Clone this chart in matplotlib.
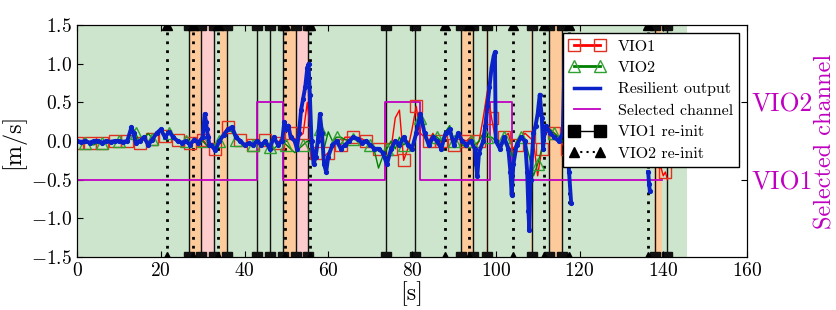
import matplotlib.pyplot as plt
from matplotlib.lines import Line2D

plt.rcParams['font.family'] = 'cmr10'
plt.rcParams['mathtext.fontset'] = 'cm'
plt.rcParams['axes.formatter.use_mathtext'] = True
plt.rcParams['xtick.direction'] = 'in'
plt.rcParams['ytick.direction'] = 'in'
plt.rcParams['xtick.top'] = True

# resilient output (blue)
t_res = [0, 1, 2, 3, 4, 5, 6, 7, 8, 9, 10, 11, 12, 13, 13.5, 14, 15, 16, 17, 18,
         19, 20, 21, 22, 23, 24, 25, 26, 27, 28, 29, 30, 30.5, 30.8, 31.0, 31.3,
         31.6, 32, 33, 34, 35, 36, 37, 38, 39, 40, 41, 42, 43, 44, 45, 46, 47, 48,
         49, 49.5, 50, 50.5, 51, 52, 52.5, 53, 53.5, 54, 54.5, 55, 55.3, 55.6, 56,
         56.5, 57, 57.5, 58, 58.5, 59, 59.5, 60, 61, 62, 63, 64, 65, 66, 67, 68,
         69, 70, 71, 72, 73, 74, 75, 76, 77, 78, 79, 80, 81, 82, 83, 84, 85, 86,
         87, 88, 89, 90, 91, 92, 93, 94, 95, 95.3, 95.6, 96, 97, 97.5, 98, 98.5,
         99, 99.5, 99.8, 100, 101, 102, 103, 103.5, 103.8, 104.2, 105, 106, 107,
         107.5, 107.8, 108, 108.3, 109, 109.5, 110, 110.5, 111, 111.3, 111.6, 112,
         113, 114, 115, 116, 116.5, 116.8, 117, 117.5, 118,
         118.2, 136.4, 136.6, 136.8]
v_res = [0.0, -0.01, 0.0, -0.02, 0.0, 0.0, -0.02, 0.0, -0.01, 0.0, 0.0, -0.01,
         0.0, 0.18, 0.1, -0.02, 0.0, 0.05, -0.05, 0.02, 0.1, 0.15, 0.05, 0.12,
         0.05, 0.0, -0.02, 0.0, -0.05, 0.02, -0.02, 0.05, 0.35, 0.25, 0.15, 0.05,
         -0.05, -0.05, -0.12, 0.0, 0.08, 0.15, 0.18, 0.05, 0.0, -0.05, -0.03,
         -0.05, 0.0, -0.05, 0.0, -0.1, 0.05, -0.05, 0.0, 0.25, 0.15, 0.2, 0.05,
         0.0, -0.1, 0.1, 0.4, 0.55, 0.7, 0.95, 1.0, 0.6, 0.0, -0.3, -0.2, 0.0,
         0.35, 0.1, -0.3, -0.4, -0.2, -0.05, 0.0, -0.1, -0.05, 0.0, 0.05, 0.03,
         -0.02, 0.0, -0.05, -0.1, -0.1, -0.15, -0.3, -0.1, 0.0, -0.05, 0.05,
         -0.05, -0.1, 0.1, 0.35, 0.1, -0.05, 0.05, 0.0, -0.1, 0.1, 0.15, -0.05,
         0.1, 0.0, -0.05, 0.0, -0.1, -0.3, -0.45, -0.15, 0.0, 0.2, 0.45, 0.7,
         0.95, 1.1, 1.15, 0.0, -0.1, 0.05, -0.1, -0.4, -0.7, -0.3, -0.05, 0.05,
         0.0, -0.4, -0.9, -1.15, -0.5, 0.1, 0.2, 0.35, 0.6, 0.3, -0.1, 0.1, 0.2,
         0.1, 0.05, 0.0, 0.1, 1.2, 0.6, 0.0, -0.4, -0.8,
         None, -0.4, -0.55, -0.65]

# VIO1 (red)
t_vio1 = list(range(0, 118)) + [139.5, 140.0, 140.5, 141.0]
v_vio1 = [-0.02, -0.01, 0.0, -0.02, 0.0, -0.01, -0.03, 0.0, -0.02, 0.0, -0.01,
          -0.02, 0.0, 0.2, 0.05, -0.02, 0.02, -0.06, 0.03, 0.1, 0.15, 0.06,
          0.12, 0.05, 0.02, -0.03, 0.0, -0.03, 0.0, -0.05, 0.02, -0.05, -0.06,
          -0.1, -0.02, 0.1, 0.18, 0.15, 0.05, 0.02, -0.05, -0.02, -0.05, 0.0,
          -0.05, 0.02, -0.08, 0.03, -0.02, 0.05, 0.2, 0.1, 0.02, 0.05, 0.1, 0.5,
          -0.05, -0.15, 0.1, -0.2, -0.15, -0.05, 0.02, -0.05, 0.05, 0.05, 0.05, 0.0,
          0.03, 0.0, -0.05, -0.08, -0.1, -0.15, -0.25, -0.1, 0.3, 0.4, -0.25, -0.1,
          0.15, 0.45, 0.1, 0.05, 0.0, 0.1, -0.05, 0.0, 0.05, 0.15, -0.05, 0.1,
          0.02, 0.0, 0.05, -0.1, 0.0, 0.3, 0.65, 0.3, 0.0, -0.05, 0.05, 0.1,
          -0.1, -0.05, 0.05, 0.1, 0.05, 0.0, -0.45, -0.1, 0.1, 0.15, 0.1, 0.05,
          -0.05, -0.1,
          -0.35, -0.45, -0.4, -0.5]

# VIO2 (green)
t_vio2 = list(range(0, 118))
v_vio2 = [-0.02, -0.03, -0.02, -0.04, -0.05, -0.02, -0.03, 0.0, -0.02, -0.01,
          0.0, -0.02, 0.0, 0.2, 0.1, -0.02, 0.03, 0.1, 0.03, 0.08, 0.15, 0.05,
          0.1, 0.05, 0.0, -0.02, 0.0, -0.06, 0.0, -0.05, 0.0, -0.06, -0.05, -0.1,
          0.0, 0.05, 0.15, 0.12, 0.02, -0.02, -0.06, -0.03, -0.05, 0.0, -0.03,
          -0.05, -0.08, -0.1, -0.05, 0.0, -0.05, -0.1, -0.15, -0.1, -0.05, 0.0,
          -0.05, -0.15, 0.15, -0.1, 0.12, 0.0, 0.05, 0.05, 0.02, 0.0, 0.03, 0.0,
          -0.02, 0.0, -0.05, -0.12, -0.35, -0.2, -0.1, 0.0, -0.1, 0.05, -0.05,
          0.0, -0.1, 0.1, 0.3, 0.05, -0.05, 0.08, 0.05, 0.0, 0.12, 0.2, 0.0, 0.1,
          -0.05, -0.08, 0.0, -0.05, 0.0, 0.1, 0.05, 0.05, 0.0, -0.05, 0.05, -0.05,
          -0.2, 0.0, 0.05, 0.0, -0.2, -0.45, -0.3, -0.1, 0.15, 0.15, 0.1, 0.05,
          0.0, -0.1]

# selected channel: -0.5 = VIO1, 0.5 = VIO2
t_sel = [0, 43.0, 49.3, 73.6, 81.9, 98.6, 103.8, 139.6]
v_sel = [-0.5, 0.5, -0.5, 0.5, -0.5, 0.5, -0.5, -0.5]

vio1_reinit = [26.8, 29.7, 32.8, 35.7, 42.9, 46.1, 49.3, 52.3, 55.2, 73.9,
               80.8, 91.6, 94.6, 97.8, 108.6, 112.8, 115.8, 138.0, 141.0]
vio2_reinit = [21.6, 27.6, 33.7, 49.7, 55.6, 87.9, 93.7, 104.0, 111.5, 117.6,
               136.4]

orange_spans = [(26.8, 29.7), (34.2, 35.7), (49.3, 52.3), (91.6, 94.6),
                (97.6, 98.0), (108.4, 108.8), (113.0, 115.8), (137.9, 139.6)]
pink_spans = [(29.7, 33.0), (52.3, 55.2)]
green_span = (0, 145.7)

fig = plt.figure(figsize=(8.37, 3.10), dpi=100)
ax = fig.add_axes([0.092, 0.171, 0.8005, 0.748])

ax.axvspan(green_span[0], green_span[1], color='#cde5cc', lw=0, zorder=0)
for a, b in orange_spans:
    ax.axvspan(a, b, color='#fdcb9b', lw=0, zorder=0.5)
for a, b in pink_spans:
    ax.axvspan(a, b, color='#fdcccc', lw=0, zorder=0.5)

for x in vio1_reinit:
    ax.plot([x, x], [-1.5, 1.5], color='#111111', lw=1, marker='s', ms=7, zorder=1)
for x in vio2_reinit:
    ax.plot([x, x], [-1.5, 1.5], color='k', lw=2, ls=(0, (1, 2.2)), marker='^',
            ms=7, zorder=1)

ax.step(t_sel, v_sel, where='post', color='#c000c0', lw=1.3, zorder=2)

ax.plot(t_vio1, v_vio1, color='r', lw=1.0, marker='s', ms=9, mfc='none',
        mec='#e03020', markevery=3, zorder=3)
ax.plot(t_vio2, v_vio2, color='g', lw=1.0, marker='^', ms=9, mfc='none',
        mec='#30a030', markevery=(2, 4), zorder=3)
ax.plot(t_res, v_res, color='#0a22c8', lw=2.8, marker='.', ms=5.5, zorder=4)

ax.set_xlim(0, 160)
ax.set_ylim(-1.5, 1.5)
ax.set_xticks(range(0, 161, 20))
ax.set_yticks([-1.5, -1.0, -0.5, 0.0, 0.5, 1.0, 1.5])
ax.set_yticklabels(['$-1.5$', '$-1.0$', '$-0.5$', '$0.0$', '$0.5$', '$1.0$', '$1.5$'])
ax.tick_params(labelsize=14, length=4)
ax.set_xlabel('[s]', fontsize=17.5, labelpad=1)
ax.set_ylabel('[m/s]', fontsize=17.5, labelpad=4)

ax2 = ax.twinx()
ax2.set_ylim(-1.5, 1.5)
ax2.set_yticks([-0.5, 0.5])
ax2.set_yticklabels(['VIO1', 'VIO2'], color='#c000c0', fontsize=18.5)
ax2.tick_params(direction='in', length=4, pad=3)
ax2.set_ylabel('Selected channel', color='#c000c0', fontsize=17.5, labelpad=1)

handles = [
    Line2D([], [], color='r', lw=2, marker='s', ms=9, mfc='none', mec='#e03020'),
    Line2D([], [], color='g', lw=2, marker='^', ms=9, mfc='none', mec='#30a030'),
    Line2D([], [], color='#0a22c8', lw=2.5),
    Line2D([], [], color='#c000c0', lw=1.3),
    Line2D([], [], color='k', lw=1, marker='s', ms=9),
    Line2D([], [], color='k', lw=1.5, ls=(0, (1, 2)), marker='^', ms=7),
]
labels = ['VIO1', 'VIO2', 'Resilient output', 'Selected channel',
          'VIO1 re-init', 'VIO2 re-init']
leg = ax.legend(handles, labels, loc='upper right', fontsize=11.5, numpoints=2,
                fancybox=False, framealpha=1, edgecolor='k', labelspacing=0.45,
                borderaxespad=0.5, handlelength=2.2)
leg.get_frame().set_linewidth(1)
leg.set_zorder(10)

fig.savefig('out.png', dpi=100)
